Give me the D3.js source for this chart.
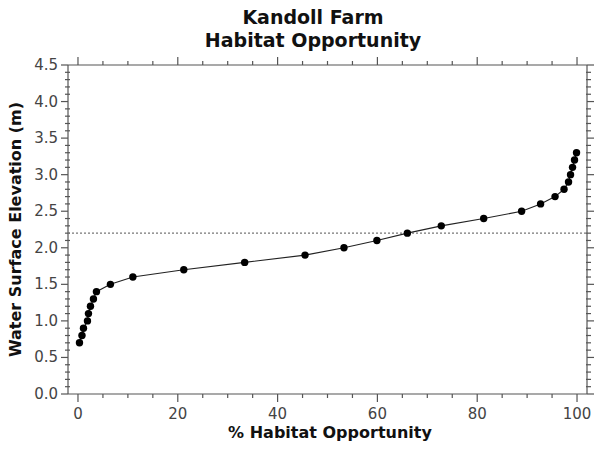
<!DOCTYPE html>
<html><head><meta charset="utf-8">
<script src="https://cdn.jsdelivr.net/npm/d3@7"></script>
<style>body{margin:0;background:#fff}svg{display:block}text{font-family:"DejaVu Sans",sans-serif}</style>
</head><body>
<svg id="c" width="605" height="449"></svg>
<script>
const habitatPct = [0.3,0.8,1.1,1.9,2.1,2.5,3.1,3.7,6.5,11,21.2,33.4,45.5,53.3,59.9,66,72.8,81.3,88.9,92.7,95.6,97.4,98.3,98.7,99.1,99.5,99.9];
const elevation  = [0.7,0.8,0.9,1.0,1.1,1.2,1.3,1.4,1.5,1.6,1.7,1.8,1.9,2.0,2.1,2.2,2.3,2.4,2.5,2.6,2.7,2.8,2.9,3.0,3.1,3.2,3.3];
const refLevel = 2.2;
const xTicks = [0,20,40,60,80,100];
const yTicks = [0.0,0.5,1.0,1.5,2.0,2.5,3.0,3.5,4.0,4.5];
const titleLines = ["Kandoll Farm","Habitat Opportunity"];

const svg = d3.select("#c");
const L=68,R=587,T=65,B=394;
const x = d3.scaleLinear().domain([-2,102]).range([L,R]);
const y = d3.scaleLinear().domain([0,4.5]).range([B,T]);
const axisCol="#555";

// axis lines
const g = svg.append("g").attr("stroke",axisCol).attr("stroke-width",1.2).attr("fill","none");
g.append("line").attr("x1",L).attr("x2",R).attr("y1",B).attr("y2",B);
g.append("line").attr("x1",L).attr("x2",R).attr("y1",T).attr("y2",T);
g.append("line").attr("x1",L).attr("x2",L).attr("y1",T).attr("y2",B);
g.append("line").attr("x1",R).attr("x2",R).attr("y1",T).attr("y2",B);

// x ticks
const xMinor = d3.range(0,101,5).filter(v=>v%20!==0);
xTicks.forEach(v=>{
  g.append("line").attr("x1",x(v)).attr("x2",x(v)).attr("y1",B).attr("y2",B+8);
  g.append("line").attr("x1",x(v)).attr("x2",x(v)).attr("y1",T).attr("y2",T-8);
});
xMinor.forEach(v=>{
  g.append("line").attr("x1",x(v)).attr("x2",x(v)).attr("y1",B).attr("y2",B+4);
  g.append("line").attr("x1",x(v)).attr("x2",x(v)).attr("y1",T).attr("y2",T-4);
});
// y ticks
const yMinor = d3.range(0,46).map(v=>v/10).filter(v=>Math.round(v*10)%5!==0);
yTicks.forEach(v=>{
  g.append("line").attr("x1",L-7).attr("x2",L).attr("y1",y(v)).attr("y2",y(v));
  g.append("line").attr("x1",R).attr("x2",R+7).attr("y1",y(v)).attr("y2",y(v));
});
yMinor.forEach(v=>{
  g.append("line").attr("x1",L-3).attr("x2",L+2).attr("y1",y(v)).attr("y2",y(v));
  g.append("line").attr("x1",R-1).attr("x2",R+4).attr("y1",y(v)).attr("y2",y(v));
});

// tick labels
svg.append("g").selectAll("text").data(xTicks).join("text")
  .attr("x",d=>x(d)).attr("y",B+25).attr("text-anchor","middle")
  .attr("font-size",15).attr("fill","#444").text(d=>d);
svg.append("g").selectAll("text").data(yTicks).join("text")
  .attr("x",L-10).attr("y",d=>y(d)+5).attr("text-anchor","end")
  .attr("font-size",15).attr("fill","#444").text(d=>d.toFixed(1));

// reference line
svg.append("line").attr("x1",L).attr("x2",R).attr("y1",y(refLevel)).attr("y2",y(refLevel))
  .attr("stroke","#777").attr("stroke-width",1.3).attr("stroke-dasharray","2,2");

// data
const pts = habitatPct.map((h,i)=>[h,elevation[i]]);
svg.append("path").datum(pts)
  .attr("d",d3.line().x(d=>x(d[0])).y(d=>y(d[1])))
  .attr("fill","none").attr("stroke","#222").attr("stroke-width",1.1);
svg.append("g").selectAll("circle").data(pts).join("circle")
  .attr("cx",d=>x(d[0])).attr("cy",d=>y(d[1])).attr("r",3.7).attr("fill","#000");

// titles
svg.append("g").selectAll("text").data(titleLines).join("text")
  .attr("x",313).attr("y",(d,i)=>24+i*23).attr("text-anchor","middle")
  .attr("font-size",19).attr("font-weight","bold").attr("fill","#111").text(d=>d);
svg.append("text").attr("x",330).attr("y",438).attr("text-anchor","middle")
  .attr("font-size",16).attr("font-weight","bold").attr("fill","#111").text("% Habitat Opportunity");
svg.append("text").attr("transform",`translate(21,${(T+B)/2}) rotate(-90)`).attr("text-anchor","middle")
  .attr("font-size",16).attr("font-weight","bold").attr("fill","#111").text("Water Surface Elevation (m)");
</script>
</body></html>
